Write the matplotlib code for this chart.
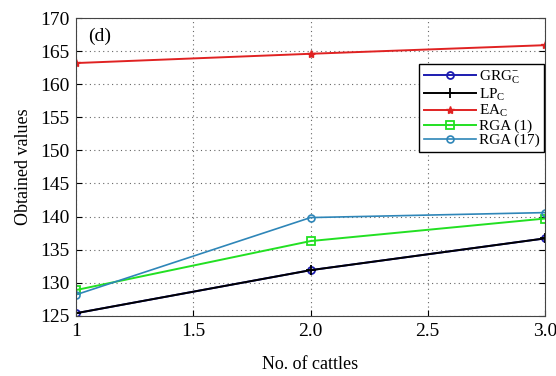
import numpy as np
import matplotlib
matplotlib.use('Agg')
import matplotlib.pyplot as plt

plt.rcParams['font.family'] = ['Liberation Serif', 'DejaVu Serif']
plt.rcParams['mathtext.fontset'] = 'custom'
plt.rcParams['mathtext.rm'] = 'Liberation Serif'
plt.rcParams['mathtext.it'] = 'Liberation Serif'

cattles = [1, 2, 3]
grg = [125.4, 131.9, 136.7]
lp = [125.4, 131.9, 136.7]
ea = [163.2, 164.6, 165.9]
rga1 = [128.9, 136.3, 139.7]
rga17 = [128.2, 139.85, 140.6]

xticks = [1, 1.5, 2.0, 2.5, 3.0]
xticklabels = ['1', '1.5', '2.0', '2.5', '3.0']
yticks = [125, 130, 135, 140, 145, 150, 155, 160, 165, 170]

fig = plt.figure(figsize=(5.56, 3.76), dpi=100)
ax = fig.add_axes([0.137, 0.16, 0.843, 0.792])

ax.plot(cattles, grg, color='#1c1cb0', marker='o', ms=5, mfc='none', mew=1.3, lw=1.4,
        label=r'GRG$^{-}_{\mathrm{C}}$')
ax.plot(cattles, lp, color='black', marker='+', ms=7, mew=1.3, lw=1.4,
        label=r'LP$_{\mathrm{C}}$')
ax.plot(cattles, ea, color='#e02222', marker='*', ms=6, lw=1.4,
        label=r'EA$_{\mathrm{C}}$')
ax.plot(cattles, rga1, color='#22e022', marker='s', ms=6, mfc='none', mew=1.3, lw=1.4,
        label='RGA (1)')
ax.plot(cattles, rga17, color='#2e86b8', marker='o', ms=5, mfc='none', mew=1.2, lw=1.2,
        label='RGA (17)')

ax.set_xlim(1, 3)
ax.set_ylim(125, 170)
ax.set_xticks(xticks)
ax.set_xticklabels(xticklabels)
ax.set_yticks(yticks)
ax.tick_params(direction='in', labelsize=14, length=4, top=False, right=True, pad=5)
ax.grid(True, linestyle=(0, (1, 3)), color='#666666', lw=0.8)
for s in ax.spines.values():
    s.set_color('#444444')

ax.set_xlabel('No. of cattles', fontsize=13, labelpad=12)
ax.set_ylabel('Obtained values', fontsize=13, labelpad=6)
ax.text(0.026, 0.94, '(d)', transform=ax.transAxes, fontsize=14, va='center')

leg = ax.legend(loc='upper right', bbox_to_anchor=(0.998, 0.845), borderaxespad=0,
                fontsize=11, fancybox=False, framealpha=1, edgecolor='black',
                handlelength=3.4, labelspacing=0.02, borderpad=0.3, handletextpad=0.2)
leg.get_frame().set_linewidth(1.0)

fig.savefig('out.png', dpi=100)
